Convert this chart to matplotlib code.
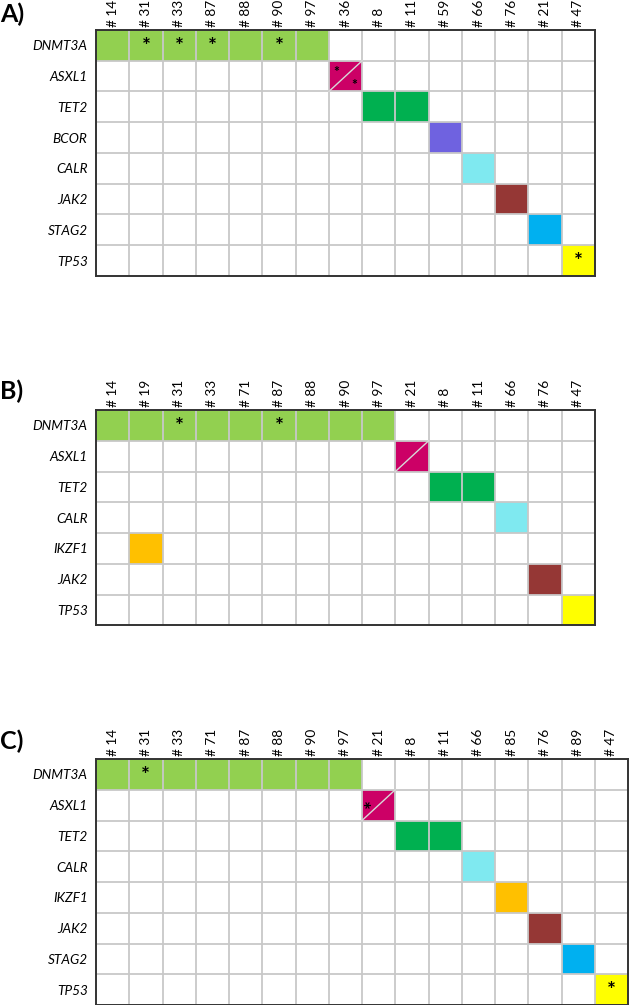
import numpy as np
import matplotlib as mpl
mpl.use('Agg')
import matplotlib.pyplot as plt
from matplotlib.patches import Rectangle
from matplotlib.transforms import ScaledTranslation

# ---- data ----
samples_A = [14, 31, 33, 87, 88, 90, 97, 36, 8, 11, 59, 66, 76, 21, 47]
genes_A = ['DNMT3A', 'ASXL1', 'TET2', 'BCOR', 'CALR', 'JAK2', 'STAG2', 'TP53']
hits_A = {'DNMT3A': [14, 31, 33, 87, 88, 90, 97], 'ASXL1': [36], 'TET2': [8, 11],
          'BCOR': [59], 'CALR': [66], 'JAK2': [76], 'STAG2': [21], 'TP53': [47]}
stars_A = [('DNMT3A', 31, 'c'), ('DNMT3A', 33, 'c'), ('DNMT3A', 87, 'c'),
           ('DNMT3A', 90, 'c'), ('ASXL1', 36, 'split'), ('TP53', 47, 'c')]

samples_B = [14, 19, 31, 33, 71, 87, 88, 90, 97, 21, 8, 11, 66, 76, 47]
genes_B = ['DNMT3A', 'ASXL1', 'TET2', 'CALR', 'IKZF1', 'JAK2', 'TP53']
hits_B = {'DNMT3A': [14, 19, 31, 33, 71, 87, 88, 90, 97], 'ASXL1': [21], 'TET2': [8, 11],
          'CALR': [66], 'IKZF1': [19], 'JAK2': [76], 'TP53': [47]}
stars_B = [('DNMT3A', 31, 'c'), ('DNMT3A', 87, 'c')]

samples_C = [14, 31, 33, 71, 87, 88, 90, 97, 21, 8, 11, 66, 85, 76, 89, 47]
genes_C = ['DNMT3A', 'ASXL1', 'TET2', 'CALR', 'IKZF1', 'JAK2', 'STAG2', 'TP53']
hits_C = {'DNMT3A': [14, 31, 33, 71, 87, 88, 90, 97], 'ASXL1': [21], 'TET2': [8, 11],
          'CALR': [66], 'IKZF1': [85], 'JAK2': [76], 'STAG2': [89], 'TP53': [47]}
stars_C = [('DNMT3A', 31, 'c'), ('ASXL1', 21, 'left'), ('TP53', 47, 'c')]

gene_colors = {'DNMT3A': '#92D050', 'ASXL1': '#CC0066', 'TET2': '#00B050',
               'BCOR': '#6F62E0', 'CALR': '#7FE9F0', 'JAK2': '#953735',
               'STAG2': '#00B0F0', 'TP53': '#FFFF00', 'IKZF1': '#FFC000'}

W, H = 629, 1005
plt.rcParams['font.family'] = ['Lato', 'DejaVu Sans']
fig = plt.figure(figsize=(W / 100, H / 100), dpi=100)


def panel(letter, samples, genes, hits, stars, left, top, right, letter_y):
    nrow, ncol = len(genes), len(samples)
    bottom = top + nrow * 30.75
    ax = fig.add_axes([left / W, 1 - bottom / H, (right - left) / W, (bottom - top) / H])
    ax.set_xlim(0, ncol)
    ax.set_ylim(nrow, 0)
    for gi, g in enumerate(genes):
        for s in hits.get(g, []):
            si = samples.index(s)
            ax.add_patch(Rectangle((si, gi), 1, 1, color=gene_colors[g], lw=0, zorder=1))
            if g == 'ASXL1':
                ax.plot([si, si + 1], [gi + 1, gi], color='#d8d8d8', lw=1.0, zorder=3)
    for k in range(1, ncol):
        ax.axvline(k, color='#c8c8c8', lw=1.3, zorder=2)
    for k in range(1, nrow):
        ax.axhline(k, color='#c8c8c8', lw=1.3, zorder=2)
    for g, s, kind in stars:
        gi, si = genes.index(g), samples.index(s)
        if kind == 'c':
            ax.text(si + 0.5, gi + 0.55, '*', ha='center', va='center', fontsize=15,
                    fontweight='bold', zorder=4)
        elif kind == 'split':
            ax.text(si + 0.22, gi + 0.38, '*', ha='center', va='center', fontsize=10,
                    fontweight='bold', zorder=4)
            ax.text(si + 0.75, gi + 0.78, '*', ha='center', va='center', fontsize=10,
                    fontweight='bold', zorder=4)
        elif kind == 'left':
            ax.text(si + 0.36, gi + 0.45, '*', ha='center', va='center', fontsize=15,
                    fontweight='bold', rotation=90, zorder=4)
    ax.set_xticks(np.arange(ncol) + 0.5)
    ax.set_xticklabels(['# %d' % s for s in samples], rotation=90, fontsize=9.8)
    ax.xaxis.tick_top()
    ax.set_yticks(np.arange(nrow) + 0.5)
    ax.set_yticklabels(genes, fontsize=9.8, style='italic')
    # row labels sit a little below the row centre in the original
    shift = ScaledTranslation(0, -6 / 100, fig.dpi_scale_trans)
    for lab in ax.get_yticklabels():
        lab.set_transform(lab.get_transform() + shift)
    ax.tick_params(axis='x', length=0, pad=2)
    ax.tick_params(axis='y', length=0, pad=6)
    for sp in ax.spines.values():
        sp.set_color('#333333')
        sp.set_linewidth(1.4)
    fig.text(0, 1 - letter_y / H, letter, fontsize=18, fontweight='bold', va='center', ha='left')
    return ax


panel('A)', samples_A, genes_A, hits_A, stars_A, 96, 30, 595, 14)
panel('B)', samples_B, genes_B, hits_B, stars_B, 96, 410, 595, 391)
panel('C)', samples_C, genes_C, hits_C, stars_C, 96, 759, 628, 741)

fig.savefig('out.png', dpi=100)
